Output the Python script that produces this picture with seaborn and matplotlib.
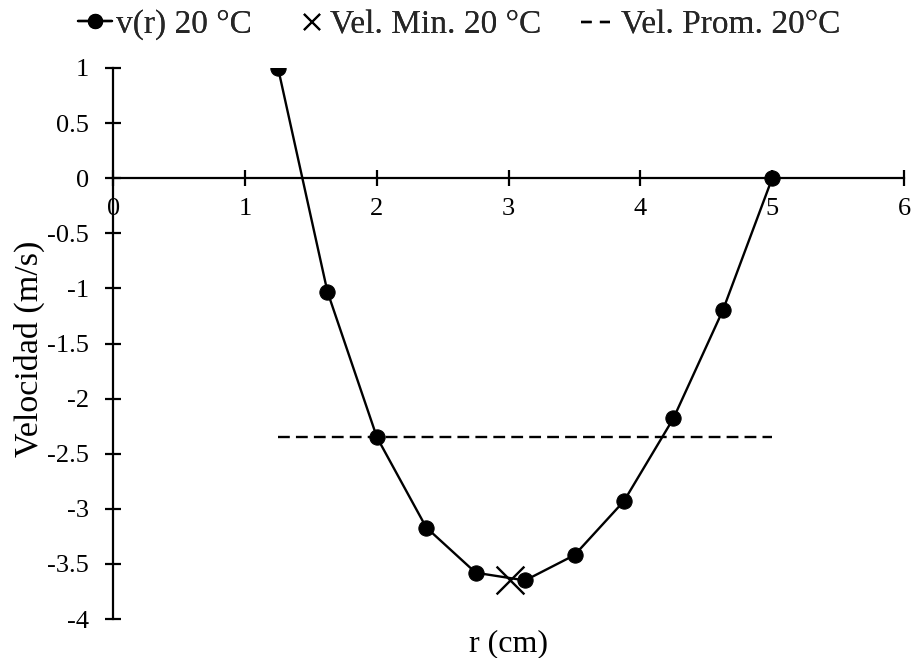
import matplotlib
matplotlib.use("Agg")
import matplotlib.pyplot as plt
import seaborn as sns
import pandas as pd
from matplotlib.lines import Line2D

# Data
r_cm = [1.25, 1.625, 2.0, 2.375, 2.75, 3.125, 3.5, 3.875, 4.25, 4.625, 5.0]
v_ms = [1.0, -1.03, -2.35, -3.17, -3.58, -3.65, -3.42, -2.93, -2.18, -1.20, 0.0]
r_min = [3.01]
v_min = [-3.65]
r_prom = [1.25, 5.0]
v_prom = [-2.35, -2.35]
x_ticks = [0, 1, 2, 3, 4, 5, 6]
y_ticks = [1, 0.5, 0, -0.5, -1, -1.5, -2, -2.5, -3, -3.5, -4]
legend_labels = ["v(r) 20 °C", "Vel. Min. 20 °C", "Vel. Prom. 20°C"]

sns.set_theme(style="white")
plt.rcParams['font.family'] = ['Liberation Serif', 'DejaVu Serif']

W, H = 913, 658
fig = plt.figure(figsize=(W / 100, H / 100), dpi=100)
x0, x1, y0, y1 = 113.3, 904.0, 68.0, 619.0
ax = fig.add_axes([x0 / W, 1 - y1 / H, (x1 - x0) / W, (y1 - y0) / H])

dash = (0, (5, 2.6))
df = pd.DataFrame({"r": r_cm, "v": v_ms})
sns.lineplot(data=df, x="r", y="v", ax=ax, color="black", linewidth=1.7,
             marker="o", markersize=11, markeredgecolor="black", sort=False,
             zorder=4)
sns.lineplot(x=r_prom, y=v_prom, ax=ax, color="black", linewidth=1.7,
             linestyle=dash, zorder=3)
sns.scatterplot(x=r_min, y=v_min, ax=ax, color="black", marker="x", s=400,
                linewidth=1.7, zorder=5)

ax.set_xlim(0, 6)
ax.set_ylim(-4, 1)
ax.set_xticks(x_ticks)
ax.set_yticks(y_ticks)
ax.set_xticklabels([str(t) for t in x_ticks])
ax.set_yticklabels([("%g" % t) for t in y_ticks])

for s in ["top", "right"]:
    ax.spines[s].set_visible(False)
ax.spines["left"].set_position(("data", 0))
ax.spines["bottom"].set_position(("data", 0))
for s in ["left", "bottom"]:
    ax.spines[s].set_color("black")
    ax.spines[s].set_linewidth(1.6)
    ax.spines[s].set_zorder(2)

ax.tick_params(axis="both", direction="inout", length=12, width=1.6,
               colors="black", labelsize=19, bottom=True, left=True)
ax.tick_params(axis="x", pad=8.5)
ax.tick_params(axis="y", pad=11.5)

ax.set_xlabel("r (cm)", fontsize=23, color="black", va="baseline")
ax.set_ylabel("Velocidad (m/s)", fontsize=24.5, color="black", va="center")
ax.xaxis.set_label_coords(0.5, (y1 - 651) / (y1 - y0))
ax.yaxis.set_label_coords((29 - x0) / (x1 - x0), 0.49)

handles = [
    Line2D([], [], color="black", linewidth=1.7, marker="o", markersize=10),
    Line2D([], [], color="black", linestyle="none", marker="x", markersize=11,
           markeredgewidth=1.5),
    Line2D([], [], color="black", linewidth=1.7, linestyle=(0, (4.5, 3.5))),
]
specs = [(78, 1.02, 0.12), (302, 0.6, 0.24), (581, 0.87, 0.33)]
for h, lab, (px, hl, tp) in zip(handles, legend_labels, specs):
    leg = fig.legend([h], [lab], loc="center left",
                     bbox_to_anchor=(px / W, 1 - 25 / H), frameon=False,
                     fontsize=24, handlelength=hl, handletextpad=tp,
                     borderpad=0, borderaxespad=0)
    fig.add_artist(leg)

fig.savefig("out.png", dpi=100)
